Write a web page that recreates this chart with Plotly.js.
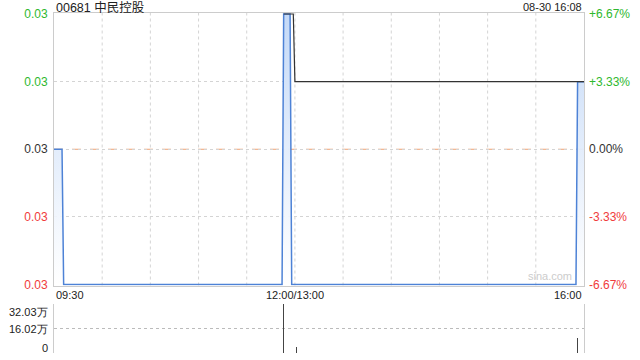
<!DOCTYPE html>
<html><head><meta charset="utf-8">
<script src="https://cdn.plot.ly/plotly-3.0.1.min.js"></script>
<style>html,body{margin:0;padding:0;background:#fff;}#chart{width:640px;height:360px;}</style>
</head><body><div id="chart"></div>
<script>
// minute index from 09:30 (0) ... 12:00/13:00 (150) ... 16:00 (330)
const priceIdx = [0, 5, 6, 142, 143, 147, 148, 325, 326, 330];
const priceVal = [0.030, 0.030, 0.028, 0.028, 0.032, 0.032, 0.028, 0.028, 0.031, 0.031];
const avgIdx = [143, 149, 150, 330];
const avgVal = [0.032, 0.032, 0.031, 0.031];
const volIdx = [143, 151, 326, 330];
const volVal = [32.03, 3.9, 9.8, 9.8]; // 万
const priceTicks = [0.028, 0.029, 0.030, 0.031, 0.032];
const priceLabels = ["0.03", "0.03", "0.03", "0.03", "0.03"];
const pctLabels = ["-6.67%", "-3.33%", "0.00%", "+3.33%", "+6.67%"];
const labelColors = ["#f03c3c", "#f03c3c", "#333333", "#2eb82e", "#2eb82e"];
const timeTickIdx = [0, 150, 330];
const timeTickText = ["09:30", "12:00/13:00", "16:00"];
const volTicks = [0, 16.02, 32.03];
const volTickText = ["0", "16.02万", "32.03万"];
const gridIdx = [30, 60, 90, 120, 150, 180, 210, 240, 270, 300];
const prevClose = 0.030;

const pad = 0.0000148;
const colorize = (arr) => arr.map((t, i) => `<span style="color:${labelColors[i]}">${t}</span>`);

const traces = [
  {x: priceIdx, y: priceVal, xaxis: 'x', yaxis: 'y', type: 'scatter', mode: 'lines',
   line: {color: '#4d82d6', width: 1.5}, fill: 'tozeroy',
   fillgradient: {type: 'vertical', start: 0.028, stop: 0.032,
     colorscale: [[0, 'rgba(255,255,255,0.9)'], [1, 'rgba(196,217,247,1)']]},
   hoverinfo: 'skip'},
  {x: avgIdx, y: avgVal, xaxis: 'x', yaxis: 'y', type: 'scatter', mode: 'lines',
   line: {color: '#333333', width: 1.2}, hoverinfo: 'skip'},
  {x: [0, 330], y: [0.028, 0.032], xaxis: 'x', yaxis: 'y2', type: 'scatter', mode: 'none',
   hoverinfo: 'skip', showlegend: false},
  {x: volIdx, y: volVal, xaxis: 'x2', yaxis: 'y3', type: 'bar', width: 0.6,
   marker: {color: '#444444', line: {width: 0}}, hoverinfo: 'skip'}
];

const H = 340, T = 13;
const mainBottom = (353 - 285.5) / H;
const annotations = [];
timeTickIdx.forEach((v, i) => {
  annotations.push({x: v, y: mainBottom, xref: 'x', yref: 'paper', text: timeTickText[i],
    showarrow: false, yanchor: 'top', yshift: -1,
    xanchor: i === 0 ? 'left' : (i === 2 ? 'right' : 'center'),
    font: {size: 11, color: '#222', family: 'Arial, Liberation Sans, sans-serif'}});
});
const volLabelY = [348, 329, 312];
volTicks.forEach((v, i) => {
  annotations.push({x: 0, xref: 'paper', y: 1 - (volLabelY[i] - T) / H, yref: 'paper',
    text: volTickText[i], showarrow: false, xanchor: 'right', yanchor: 'middle', xshift: -4,
    font: {size: 11, color: '#222', family: 'Arial, Liberation Sans, sans-serif'}});
});
annotations.push({x: 0, xref: 'paper', y: 1, yref: 'paper', yshift: 6, text: '00681 中民控股',
  showarrow: false, xanchor: 'left', yanchor: 'middle',
  font: {size: 12.5, color: '#222', family: 'Arial, Liberation Sans, Noto Sans CJK SC, sans-serif'}});
annotations.push({x: 1, xref: 'paper', y: 1, yref: 'paper', yshift: 6, text: '08-30 16:08',
  showarrow: false, xanchor: 'right', yanchor: 'middle',
  font: {size: 11, color: '#222', family: 'Arial, Liberation Sans, sans-serif'}});
annotations.push({x: 324, xref: 'x', y: 0.028, yref: 'y', text: 'sina.com', showarrow: false,
  xanchor: 'right', yanchor: 'bottom', yshift: 1,
  font: {size: 11, color: '#cccccc', family: 'Arial, Liberation Sans, sans-serif'}});

const shapes = [];
gridIdx.forEach(g => {
  shapes.push({type: 'line', xref: 'x', yref: 'paper', x0: g, x1: g, y0: mainBottom, y1: 1,
    line: {color: '#d4d4d4', width: 1, dash: 'dot'}, layer: 'below'});
});
shapes.push({type: 'line', xref: 'paper', yref: 'y', x0: 0, x1: 1, y0: prevClose, y1: prevClose,
  line: {color: '#f0a070', width: 1, dash: 'dash'}, layer: 'below'});

const layout = {
  width: 640, height: 360,
  margin: {l: 54, r: 56, t: T, b: 7},
  paper_bgcolor: '#ffffff', plot_bgcolor: '#ffffff',
  showlegend: false,
  font: {family: 'Arial, Liberation Sans, sans-serif', size: 11, color: '#222'},
  xaxis: {domain: [0, 1], range: [0, 330], anchor: 'y', showgrid: false, zeroline: false,
    showticklabels: false, ticks: '', showline: true, mirror: true, linecolor: '#cccccc', linewidth: 1},
  yaxis: {domain: [mainBottom, 1], range: [0.028 - pad, 0.032 + pad], anchor: 'x', tickvals: priceTicks,
    ticktext: colorize(priceLabels), showgrid: true, gridcolor: '#d4d4d4', griddash: 'dot',
    zeroline: false, ticks: '', showline: true, mirror: true, linecolor: '#cccccc', linewidth: 1,
    tickfont: {size: 12}, ticklabelstandoff: 3},
  yaxis2: {overlaying: 'y', side: 'right', anchor: 'x', range: [0.028 - pad, 0.032 + pad], tickvals: priceTicks,
    ticktext: colorize(pctLabels), showgrid: false, zeroline: false, ticks: '',
    tickfont: {size: 12}, ticklabelstandoff: 4},
  xaxis2: {domain: [0, 1], range: [0, 330], anchor: 'y3', showgrid: false, zeroline: false,
    showticklabels: false, ticks: '', showline: false},
  yaxis3: {domain: [0, 49 / H], range: [0, 32.03], anchor: 'x2', tickvals: volTicks,
    showticklabels: false, showgrid: true, gridcolor: '#bbbbbb', griddash: 'dot', zeroline: false,
    ticks: '', showline: true, mirror: true, linecolor: '#cccccc', linewidth: 1},
  bargap: 0,
  annotations: annotations,
  shapes: shapes
};

Plotly.newPlot('chart', traces, layout, {staticPlot: true, displayModeBar: false});
</script></body></html>
